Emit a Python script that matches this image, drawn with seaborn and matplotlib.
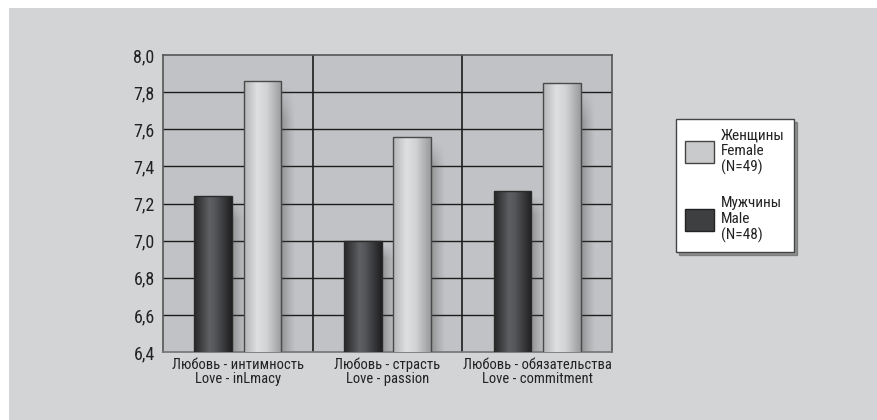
import numpy as np
import pandas as pd
import matplotlib
matplotlib.use("Agg")
import matplotlib.pyplot as plt
import seaborn as sns
from matplotlib.patches import Patch, Rectangle
from matplotlib.colors import to_rgb
from matplotlib import font_manager

categories = ["Любовь - интимность\nLove - inLmacy",
              "Любовь - страсть\nLove - passion",
              "Любовь - обязательства\nLove - commitment"]
male_values = [7.24, 7.00, 7.27]
female_values = [7.86, 7.56, 7.85]
male_label = "Мужчины\nMale\n(N=48)"
female_label = "Женщины\nFemale\n(N=49)"
yticks = [6.4, 6.6, 6.8, 7.0, 7.2, 7.4, 7.6, 7.8, 8.0]

df = pd.DataFrame({
    "cat": categories * 2,
    "val": male_values + female_values,
    "sex": ["Male"] * 3 + ["Female"] * 3,
})

sns.set_theme(style="white")
fl = font_manager.fontManager.ttflist
names = {f.name for f in fl}
fam = [n for n in ["Liberation Sans Narrow", "Roboto Condensed", "Open Sans Condensed",
                   "DejaVu Sans Condensed"] if n in names]
has_cond = any(f.name == "DejaVu Sans" and f.stretch in ("condensed", "semi-condensed")
               for f in fl)
plt.rcParams["font.family"] = fam[:1] + ["DejaVu Sans"]
if not fam and has_cond:
    plt.rcParams["font.stretch"] = "condensed"

fig = plt.figure(figsize=(8.77, 4.2), dpi=100, facecolor="white")
fig.patches.append(Rectangle((9 / 877, 0), 1, 1 - 8 / 420, transform=fig.transFigure,
                             facecolor="#d3d4d6", edgecolor="none", zorder=-10))
ax = fig.add_axes([163 / 877, 68 / 420, (612 - 163) / 877, (352 - 55) / 420])
ax.set_facecolor("#c1c2c5")

male_c, female_c = "#3e3f41", "#c9cacc"
sns.barplot(data=df, x="cat", y="val", hue="sex", hue_order=["Male", "Female"],
            palette={"Male": male_c, "Female": female_c}, width=0.66, gap=0.24,
            ax=ax, legend=False, zorder=3)

ymin, ymax = 6.4, 8.0
ax.set_ylim(ymin, ymax)
ax.set_xlim(-0.5, 2.5)
ax.autoscale(False)

for t in yticks[1:-1]:
    ax.axhline(t, color="#1c1c1c", lw=1.0, zorder=1)
for xv in [0.5, 1.5]:
    ax.axvline(xv, color="#1c1c1c", lw=1.2, zorder=1)

def grad(stops, n=64):
    pos = np.linspace(0, 1, n)
    xs = [s[0] for s in stops]
    cols = np.array([to_rgb(s[1]) for s in stops])
    arr = np.stack([np.interp(pos, xs, cols[:, k]) for k in range(3)], axis=-1)
    return arr[np.newaxis, :, :]

male_grad = grad([(0, "#262628"), (0.4, "#5e5f62"), (0.55, "#56575a"), (1, "#1f1f21")])
female_grad = grad([(0, "#b4b5b7"), (0.35, "#dedfe1"), (0.6, "#d2d3d5"), (1, "#9a9b9d")])

for p in list(ax.patches):
    x, w, h = p.get_x(), p.get_width(), p.get_height()
    fc = p.get_facecolor()
    is_male = fc[0] < 0.5
    # soft shadow
    nx, ny = 32, 64
    sh = np.zeros((ny, nx, 4))
    sh[..., :3] = 0.28
    x_fade = np.linspace(0.5, 0.0, nx) ** 1.3
    sh[..., 3] = x_fade[None, :] * np.clip(np.linspace(0, 8, ny), 0, 1)[:, None]
    ax.imshow(sh, extent=[x + w, x + w + 0.1, ymin, h - 0.02], aspect="auto",
              interpolation="bilinear", zorder=2, origin="upper")
    im = ax.imshow(male_grad if is_male else female_grad,
                   extent=[x, x + w, ymin, h], aspect="auto",
                   interpolation="bilinear", zorder=3.5)
    im.set_clip_path(p)
    p.set_facecolor("none")
    p.set_edgecolor("#2a2a2a" if is_male else "#4a4a4a")
    p.set_linewidth(1.0)
    p.set_zorder(4)

ax.set_xlim(-0.5, 2.5)
ax.set_ylim(ymin, ymax)
ax.set_yticks(yticks)
ax.set_yticklabels([f"{v:.1f}".replace(".", ",") for v in yticks], fontsize=13, color="#222222")
ax.tick_params(axis="y", length=0, pad=6)
ax.tick_params(axis="x", length=0, pad=4)
ax.set_xticks(range(3))
ax.set_xticklabels(categories, fontsize=10.5, color="#222222", linespacing=1.0)
ax.set_xlabel("")
ax.set_ylabel("")
for s in ["left", "top", "right"]:
    ax.spines[s].set_color("#555555")
    ax.spines[s].set_linewidth(1.2)
ax.spines["bottom"].set_color("#777777")

handles = [Patch(facecolor=female_c, edgecolor="#444444"),
           Patch(facecolor=male_c, edgecolor="#222222")]
leg = ax.legend(handles, [female_label, male_label], loc="upper left",
                bbox_to_anchor=(676 / 877, 1 - 119 / 420), bbox_transform=fig.transFigure,
                borderaxespad=0, frameon=True, fancybox=False, shadow=True,
                fontsize=11, handlelength=1.9, handleheight=1.8, labelspacing=1.4,
                borderpad=0.6, handletextpad=0.45, framealpha=1)
leg.get_frame().set_edgecolor("#444444")
leg.get_frame().set_linewidth(1.0)
for t in leg.get_texts():
    t.set_linespacing(1.15)
    t.set_color("#222222")

fig.savefig("out.png", dpi=100, facecolor=fig.get_facecolor())
